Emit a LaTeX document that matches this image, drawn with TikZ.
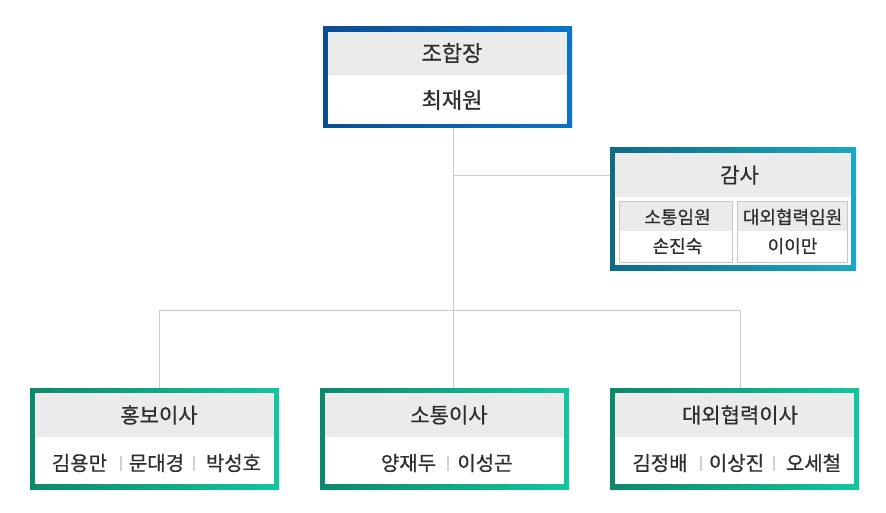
\documentclass[tikz,border=0pt]{standalone}
\usepackage{fontspec}
\setmainfont[FakeBold=0.6,AutoFakeBold=0.6]{Noto Sans CJK KR}
\definecolor{txt}{HTML}{2E2E2E}
\definecolor{hdr}{HTML}{EBEBEB}
\definecolor{cellline}{HTML}{C8C8C8}
\definecolor{conn}{HTML}{CCCCCC}
\definecolor{sepc}{HTML}{D0D0D0}
\definecolor{bluA}{HTML}{0B4E93}
\definecolor{bluB}{HTML}{0A74C8}
\definecolor{tealA}{HTML}{0E6B87}
\definecolor{tealB}{HTML}{19A9C1}
\definecolor{grnA}{HTML}{0C896B}
\definecolor{grnB}{HTML}{12C6A0}
\tikzset{
  lbl/.style={text=txt, inner sep=0pt, anchor=center},
  toplbl/.style={lbl, font=\fontsize{22}{24}\selectfont\bfseries},
  hdrlbl/.style={lbl, font=\fontsize{21}{23}\selectfont\bfseries},
  namelbl/.style={lbl, font=\fontsize{20}{22}\selectfont\bfseries},
  sublbl/.style={lbl, font=\fontsize{18}{20}\selectfont\bfseries},
  connector/.style={draw=conn, line width=1pt},
  namesep/.style={draw=sepc, line width=1.2pt},
  cellbox/.style={draw=cellline, line width=1pt},
}
\begin{document}
\begin{tikzpicture}[x=1pt,y=-1pt]
\useasboundingbox (0,0) rectangle (886,513);
\fill[white] (0,0) rectangle (886,513);

% ---------- connectors (drawn first, under the boxes)
\coordinate (jtop) at (453,128);
\coordinate (jaud) at (453,176);
\coordinate (jbar) at (453,310);
\coordinate (jleft) at (159,310);
\coordinate (jright) at (740,310);
\coordinate (jmidend) at (453,388);
\coordinate (jleftend) at (159,388);
\coordinate (jrightend) at (740,388);
\coordinate (jaudend) at (610,176);
\draw[connector] (jtop) -- (jmidend);
\draw[connector] (jaud) -- (jaudend);
\draw[connector] (jleft) -- (jright);
\draw[connector] (jleft) -- (jleftend);
\draw[connector] (jright) -- (jrightend);

% ---------- 조합장 box
\shade[left color=bluA, right color=bluB] (323,27) rectangle (572,128);
\fill[white] (328,32) rectangle (567,124);
\fill[hdr] (328,32) rectangle (567,75);
\node[toplbl] (chiefT) at (452,53) {조합장};
\node[toplbl] (chiefN) at (452,100) {최재원};

% ---------- 감사 box
\shade[left color=tealA, right color=tealB] (610,148) rectangle (856,270);
\fill[white] (615,153) rectangle (851,265);
\fill[hdr] (615,153) rectangle (851,197);
\fill[hdr] (619,201) rectangle (733,231);
\fill[hdr] (737,201) rectangle (848,231);
\draw[cellbox] (619.5,201.5) rectangle (732.5,262.5);
\draw[cellbox] (737.5,201.5) rectangle (847.5,262.5);
\node[hdrlbl] (audT) at (739.5,175) {감사};
\node[sublbl] (audA) at (677.5,217) {소통임원};
\node[sublbl] (audAn) at (677.5,246) {손진숙};
\node[sublbl] (audB) at (792.5,217) {대외협력임원};
\node[sublbl] (audBn) at (792.5,246) {이이만};

% ---------- 홍보이사 box
\shade[left color=grnA, right color=grnB] (30,388) rectangle (279,489);
\fill[white] (35,393) rectangle (274,484);
\fill[hdr] (35,393) rectangle (274,437);
\node[hdrlbl] (prT) at (159,415) {홍보이사};
\node[namelbl] (prA) at (79.5,463) {김용만};
\node[namelbl] (prB) at (156.5,463) {문대경};
\node[namelbl] (prC) at (233.5,463) {박성호};
\draw[namesep] (121,456) -- (121,471);
\draw[namesep] (194,456) -- (194,471);

% ---------- 소통이사 box
\shade[left color=grnA, right color=grnB] (320,388) rectangle (569,489);
\fill[white] (325,393) rectangle (564,484);
\fill[hdr] (325,393) rectangle (564,437);
\node[hdrlbl] (comT) at (449,415) {소통이사};
\node[namelbl] (comA) at (408.5,463) {양재두};
\node[namelbl] (comB) at (485,463) {이성곤};
\draw[namesep] (448,456) -- (448,471);

% ---------- 대외협력이사 box
\shade[left color=grnA, right color=grnB] (610,388) rectangle (859,489);
\fill[white] (615,393) rectangle (854,484);
\fill[hdr] (615,393) rectangle (854,437);
\node[hdrlbl] (extT) at (740,415) {대외협력이사};
\node[namelbl] (extA) at (660,463) {김정배};
\node[namelbl] (extB) at (736.5,463) {이상진};
\node[namelbl] (extC) at (813.5,463) {오세철};
\draw[namesep] (701,456) -- (701,471);
\draw[namesep] (774,456) -- (774,471);
\end{tikzpicture}
\end{document}
